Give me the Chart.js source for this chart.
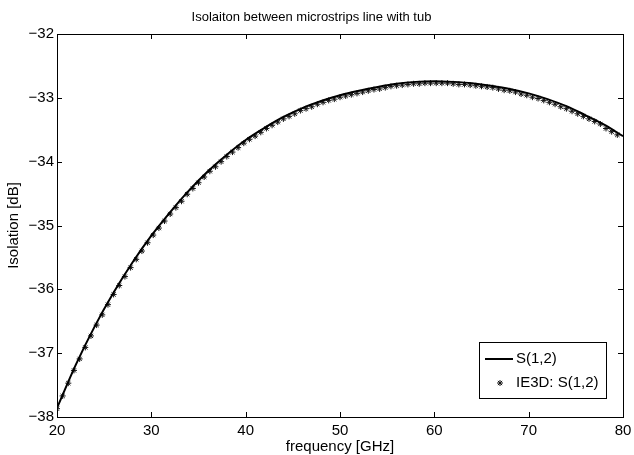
<!DOCTYPE html>
<html>
<head>
<meta charset="utf-8">
<script src="https://cdn.jsdelivr.net/npm/chart.js@4.4.1/dist/chart.umd.min.js"></script>
<style>
  html, body { margin: 0; padding: 0; background: #fff; }
  #wrap { width: 634px; height: 455px; }
</style>
</head>
<body>
<div id="wrap"><canvas id="isoChart" width="634" height="455"></canvas></div>
<script>
// simulated S(1,2), every 2 GHz
const simFreq = [20, 22, 24, 26, 28, 30, 32, 34, 36, 38, 40, 42, 44, 46, 48, 50,
                 52, 54, 56, 58, 60, 62, 64, 66, 68, 70, 72, 74, 76, 78, 80];
const simIso = [-37.86, -37.18, -36.58, -36.05, -35.58, -35.16, -34.79, -34.45,
                -34.15, -33.89, -33.66, -33.47, -33.30, -33.16, -33.05, -32.96,
                -32.89, -32.83, -32.78, -32.75, -32.74, -32.75, -32.77, -32.81,
                -32.86, -32.93, -33.02, -33.13, -33.27, -33.42, -33.60];

// IE3D points (asterisks), one every 0.6 GHz
const ie3dFreq = [20.0, 20.6, 21.2, 21.8, 22.4, 23.0, 23.6, 24.2, 24.8, 25.4,
                  26.0, 26.6, 27.2, 27.8, 28.4, 29.0, 29.6, 30.2, 30.8, 31.4,
                  32.0, 32.6, 33.2, 33.8, 34.4, 35.0, 35.6, 36.2, 36.8, 37.4,
                  38.0, 38.6, 39.2, 39.8, 40.4, 41.0, 41.6, 42.2, 42.8, 43.4,
                  44.0, 44.6, 45.2, 45.8, 46.4, 47.0, 47.6, 48.2, 48.8, 49.4,
                  50.0, 50.6, 51.2, 51.8, 52.4, 53.0, 53.6, 54.2, 54.8, 55.4,
                  56.0, 56.6, 57.2, 57.8, 58.4, 59.0, 59.6, 60.2, 60.8, 61.4,
                  62.0, 62.6, 63.2, 63.8, 64.4, 65.0, 65.6, 66.2, 66.8, 67.4,
                  68.0, 68.6, 69.2, 69.8, 70.4, 71.0, 71.6, 72.2, 72.8, 73.4,
                  74.0, 74.6, 75.2, 75.8, 76.4, 77.0, 77.6, 78.2, 78.8, 79.4];
const ie3dIso = [-37.87, -37.67, -37.47, -37.27, -37.09, -36.91, -36.73, -36.56, -36.40, -36.24,
                 -36.08, -35.94, -35.80, -35.66, -35.53, -35.40, -35.27, -35.15, -35.04, -34.93,
                 -34.82, -34.72, -34.62, -34.51, -34.42, -34.33, -34.24, -34.15, -34.08, -34.00,
                 -33.92, -33.85, -33.78, -33.71, -33.65, -33.60, -33.54, -33.48, -33.43, -33.38,
                 -33.33, -33.29, -33.25, -33.20, -33.17, -33.14, -33.10, -33.07, -33.04, -33.02,
                 -32.99, -32.97, -32.95, -32.93, -32.91, -32.89, -32.87, -32.86, -32.84, -32.82,
                 -32.81, -32.80, -32.79, -32.78, -32.78, -32.77, -32.77, -32.77, -32.77, -32.77,
                 -32.78, -32.79, -32.79, -32.80, -32.81, -32.82, -32.83, -32.84, -32.86, -32.88,
                 -32.89, -32.91, -32.94, -32.96, -32.99, -33.01, -33.04, -33.07, -33.10, -33.14,
                 -33.17, -33.21, -33.25, -33.29, -33.33, -33.37, -33.41, -33.48, -33.53, -33.58];

const xTicks = [20, 30, 40, 50, 60, 70, 80];
const yTicks = [-38, -37, -36, -35, -34, -33, -32];

const FONT = 'Helvetica, "Liberation Sans", Arial, sans-serif';
const minus = v => String(v).replace('-', '\u2212');

// matlab style box: frame, inward ticks on all four sides, legend in lower right
const matlabBox = {
    id: 'matlabBox',
    afterDraw(chart) {
        const c = chart.ctx;
        const a = chart.chartArea;
        const xs = chart.scales.x, ys = chart.scales.y;
        const tl = 5;
        c.save();
        c.strokeStyle = '#000';
        c.lineWidth = 1;
        c.beginPath();
        xTicks.forEach(t => {
            const px = Math.round(xs.getPixelForValue(t)) + 0.5;
            c.moveTo(px, a.bottom); c.lineTo(px, a.bottom - tl);
            c.moveTo(px, a.top); c.lineTo(px, a.top + tl);
        });
        yTicks.forEach(t => {
            const py = Math.round(ys.getPixelForValue(t)) + 0.5;
            c.moveTo(a.left, py); c.lineTo(a.left + tl, py);
            c.moveTo(a.right, py); c.lineTo(a.right - tl, py);
        });
        c.stroke();
        c.strokeRect(Math.round(a.left) + 0.5, Math.round(a.top) + 0.5,
                     Math.round(a.right - a.left), Math.round(a.bottom - a.top));

        // legend
        const ds = chart.data.datasets;
        const lx = 479.5, ly = 342.5, lw = 127, lh = 56;
        c.fillStyle = '#fff';
        c.fillRect(lx, ly, lw, lh);
        c.strokeRect(lx, ly, lw, lh);
        c.font = '15px ' + FONT;
        c.fillStyle = '#000';
        c.textBaseline = 'middle';
        c.beginPath();
        c.lineWidth = 2;
        c.moveTo(485, 359); c.lineTo(513, 359);
        c.stroke();
        c.fillText(ds[0].label, 516, 359);
        c.lineWidth = 1;
        c.strokeStyle = '#111';
        Chart.helpers.drawPoint(c, {
            pointStyle: 'star', radius: 3, rotation: 0, borderWidth: 1
        }, 500, 383);
        c.fillText(ds[1].label, 516, 383);
        c.restore();
    }
};

const ctx = document.getElementById('isoChart').getContext('2d');

new Chart(ctx, {
    type: 'scatter',
    data: {
        datasets: [
            {
                label: 'S(1,2)',
                data: simFreq.map((f, i) => ({ x: f, y: simIso[i] })),
                showLine: true,
                borderColor: '#000',
                borderWidth: 2,
                pointRadius: 0,
                cubicInterpolationMode: 'monotone',
                order: 1
            },
            {
                label: 'IE3D: S(1,2)',
                data: ie3dFreq.map((f, i) => ({ x: f, y: ie3dIso[i] })),
                showLine: false,
                pointStyle: 'star',
                pointRadius: 3,
                borderWidth: 1,
                borderColor: '#111',
                backgroundColor: '#111',
                order: 2
            }
        ]
    },
    options: {
        responsive: false,
        animation: false,
        layout: { padding: { left: 0, right: 11, top: 0, bottom: 0 } },
        plugins: {
            legend: { display: false },
            tooltip: { enabled: false },
            title: {
                display: true,
                text: 'Isolaiton between microstrips line with tub',
                color: '#000',
                font: { family: FONT, size: 13, weight: 'normal', lineHeight: 1.2 },
                padding: { top: 10, bottom: 8.4 }
            }
        },
        scales: {
            x: {
                type: 'linear',
                min: 20, max: 80,
                afterBuildTicks: s => { s.ticks = xTicks.map(v => ({ value: v })); },
                afterFit: s => { s.height = 38; s.paddingLeft = 0; s.paddingRight = 0; },
                grid: { display: false, drawTicks: false },
                border: { display: false },
                ticks: {
                    padding: 6,
                    color: '#000',
                    font: { family: FONT, size: 15, lineHeight: 1.1 },
                    callback: v => minus(v)
                },
                title: {
                    display: true,
                    text: 'frequency [GHz]',
                    color: '#000',
                    padding: { top: 0, bottom: 0 },
                    font: { family: FONT, size: 15, lineHeight: 1.1 }
                }
            },
            y: {
                type: 'linear',
                min: -38, max: -32,
                afterBuildTicks: s => { s.ticks = yTicks.map(v => ({ value: v })); },
                afterFit: s => { s.width = 57; s.paddingTop = 0; s.paddingBottom = 0; },
                grid: { display: false, drawTicks: false },
                border: { display: false },
                ticks: {
                    padding: 3,
                    color: '#000',
                    font: { family: FONT, size: 15 },
                    callback: v => minus(v)
                },
                title: {
                    display: true,
                    text: 'Isolation [dB]',
                    color: '#000',
                    padding: { top: 6, bottom: 0 },
                    font: { family: FONT, size: 15, lineHeight: 1.1 }
                }
            }
        }
    },
    plugins: [matlabBox]
});
</script>
</body>
</html>
